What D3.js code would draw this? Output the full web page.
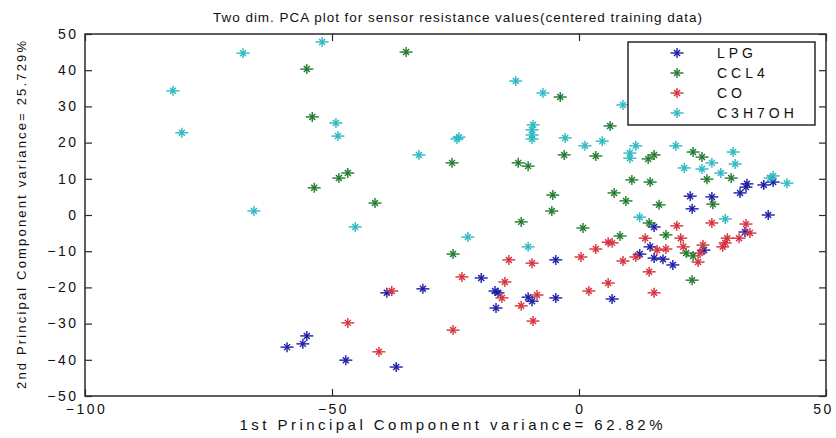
<!DOCTYPE html>
<html>
<head>
<meta charset="utf-8">
<script src="https://cdn.jsdelivr.net/npm/d3@7"></script>
<style>
  html, body { margin: 0; padding: 0; background: #fff; }
  svg { display: block; font-family: Arial, "Liberation Sans", Helvetica, sans-serif; }
</style>
</head>
<body>
<svg id="chart" width="836" height="438"></svg>
<script>
// Scores on the first two principal components, one array per gas
const seriesNames = ["LPG", "CCL4", "CO", "C3H7OH"];

const lpgPC1 = [-47.2, -37.0, -59.1, -55.9, -55.1, -38.9, -31.6, -19.8, -17.0, -16.4, -16.8, -10.3, -9.5, -4.7, -4.7, 6.7, 12.3, 14.4, 15.2, 17.0, 19.0, 15.2, 25.3, 33.6, 22.5, 26.9, 22.9, 38.3, 34.0, 33.8, 32.6, 37.4, 39.3];
const lpgPC2 = [-40.1, -42.0, -36.5, -35.6, -33.4, -21.5, -20.4, -17.4, -21.0, -21.5, -25.7, -22.7, -23.8, -22.9, -12.4, -23.2, -10.8, -8.8, -11.9, -12.2, -13.8, -3.3, -9.7, -4.7, 5.2, 5.0, 1.7, 0.0, 8.6, 7.7, 6.1, 8.3, 9.1];

const ccl4PC1 = [-35.0, -55.1, -54.0, -48.6, -46.8, -53.6, -41.3, -3.8, -25.7, -12.3, -10.3, -3.0, -5.3, -5.5, -11.7, -25.5, 0.8, 6.3, 3.4, 15.2, 14.0, 23.1, 24.9, 10.7, 14.4, 25.9, 30.8, 7.1, 9.5, 16.2, 27.1, 14.2, 8.3, 17.6, 21.7, 23.1, 22.9];
const ccl4PC2 = [45.0, 40.3, 27.1, 10.2, 11.6, 7.5, 3.3, 32.6, 14.4, 14.4, 13.5, 16.6, 5.5, 1.1, -1.9, -10.8, -3.6, 24.6, 16.3, 16.6, 15.5, 17.4, 16.0, 9.7, 9.1, 9.9, 10.2, 6.1, 3.9, 2.8, 3.0, -2.2, -5.8, -5.5, -10.5, -11.3, -18.0];

const coPC1 = [-46.8, -40.5, -37.9, -25.5, -23.7, -15.0, -15.6, -14.2, -9.5, -8.5, -11.7, -9.3, 0.4, 3.4, 6.7, 5.9, 8.9, 11.5, 13.4, 15.8, 17.6, 19.8, 20.6, 21.1, 14.2, 5.9, 2.0, 15.2, 26.9, 33.8, 34.6, 30.0, 29.6, 29.1, 32.4, 25.1, 24.5, 24.1];
const coPC2 = [-29.8, -37.8, -21.0, -31.8, -17.1, -18.5, -22.9, -12.4, -13.3, -22.1, -25.1, -29.3, -11.6, -9.4, -7.7, -7.5, -12.7, -11.6, -6.4, -9.7, -9.4, -3.0, -6.4, -8.8, -15.7, -18.8, -21.0, -21.5, -2.2, -2.5, -5.0, -6.4, -7.7, -8.8, -6.4, -8.3, -10.5, -13.0];

const c3h7ohPC1 = [-52.0, -68.0, -82.2, -49.2, -80.4, -48.8, -65.8, -45.3, -12.8, -7.3, -24.7, -24.3, -9.3, -9.5, -9.5, -9.5, -2.8, 1.2, -32.4, -22.5, -10.3, 8.9, 4.7, 11.5, 10.3, 10.3, 19.6, 31.2, 21.3, 24.9, 26.9, 31.6, 28.7, 39.3, 38.7, 42.1, 12.3, 29.6];
const c3h7ohPC2 = [47.8, 44.7, 34.3, 25.4, 22.7, 21.8, 1.1, -3.3, 37.0, 33.7, 21.0, 21.5, 24.9, 23.5, 22.1, 21.0, 21.3, 19.1, 16.6, -6.1, -8.8, 30.4, 20.4, 19.1, 17.1, 15.7, 19.1, 17.4, 13.0, 12.7, 14.4, 14.1, 11.6, 10.8, 10.2, 8.8, -0.6, -1.1];

const xTicks = [-100, -50, 0, 50];
const yTicks = [-50, -40, -30, -20, -10, 0, 10, 20, 30, 40, 50];

const titleText = "Two dim. PCA plot for sensor resistance values(centered training data)";
const xLabelText = "1st Principal Component variance= 62.82%";
const yLabelText = "2nd Principal Component variance= 25.729%";

const colors = ["#1c1ca6", "#1f7a2f", "#d5303c", "#2cb8c2"];

const series = [
  { name: seriesNames[0], xs: lpgPC1, ys: lpgPC2, color: colors[0] },
  { name: seriesNames[1], xs: ccl4PC1, ys: ccl4PC2, color: colors[1] },
  { name: seriesNames[2], xs: coPC1, ys: coPC2, color: colors[2] },
  { name: seriesNames[3], xs: c3h7ohPC1, ys: c3h7ohPC2, color: colors[3] }
];

const svg = d3.select("#chart");
const plot = { left: 85, right: 826, top: 34, bottom: 396 };

const x = d3.scaleLinear().domain([-100, 50]).range([plot.left, plot.right]);
const y = d3.scaleLinear().domain([-50, 50]).range([plot.bottom, plot.top]);

const axisColor = "#2a2a2a";
const tickFont = 14;

// Asterisk marker: plus sign with a smaller diagonal cross
function asterisk(sel, color) {
  const h = 6.5, v = 5, d = 3;
  sel.append("line").attr("x1", -h).attr("x2", h).attr("y1", 0).attr("y2", 0);
  sel.append("line").attr("x1", 0).attr("x2", 0).attr("y1", -v).attr("y2", v);
  sel.append("line").attr("x1", -d).attr("x2", d).attr("y1", -d).attr("y2", d);
  sel.append("line").attr("x1", -d).attr("x2", d).attr("y1", d).attr("y2", -d);
  sel.attr("stroke", color).attr("stroke-width", 1.4).attr("stroke-linecap", "butt");
}

// Points
const pointsLayer = svg.append("g");
series.forEach(s => {
  const pts = s.xs.map((v, i) => [v, s.ys[i]]);
  pointsLayer.append("g")
    .selectAll("g")
    .data(pts)
    .join("g")
    .attr("transform", d => `translate(${x(d[0])},${y(d[1])})`)
    .each(function () { asterisk(d3.select(this), s.color); });
});

// Axes: ticks point inward on all four sides
const bottomAxis = svg.append("g")
  .attr("transform", `translate(0,${plot.bottom})`)
  .call(d3.axisBottom(x).tickValues(xTicks).tickSize(-7).tickSizeOuter(0).tickPadding(8));
const leftAxis = svg.append("g")
  .attr("transform", `translate(${plot.left},0)`)
  .call(d3.axisLeft(y).tickValues(yTicks).tickSize(-7).tickSizeOuter(0).tickPadding(9));
const topAxis = svg.append("g")
  .attr("transform", `translate(0,${plot.top})`)
  .call(d3.axisTop(x).tickValues(xTicks).tickSize(-7).tickSizeOuter(0).tickFormat(""));
const rightAxis = svg.append("g")
  .attr("transform", `translate(${plot.right},0)`)
  .call(d3.axisRight(y).tickValues(yTicks).tickSize(-7).tickSizeOuter(0).tickFormat(""));

[bottomAxis, leftAxis, topAxis, rightAxis].forEach(g => {
  g.select(".domain").remove();
  g.selectAll(".tick line").attr("stroke", axisColor).attr("stroke-width", 1.2);
  g.selectAll(".tick text")
    .attr("fill", "#111")
    .attr("font-size", tickFont)
    .attr("font-family", "Arial, 'Liberation Sans', sans-serif")
    .style("letter-spacing", "2.5px");
});
leftAxis.selectAll(".tick text").attr("dx", "2.5px").attr("dy", "0.3em");
bottomAxis.selectAll(".tick text").attr("dx", d => (d === 50 ? "-3px" : "1px"));

// Axes box
svg.append("rect")
  .attr("x", plot.left).attr("y", plot.top)
  .attr("width", plot.right - plot.left).attr("height", plot.bottom - plot.top)
  .attr("fill", "none").attr("stroke", axisColor).attr("stroke-width", 1.5);

// Title
svg.append("text")
  .attr("x", (plot.left + plot.right) / 2 + 2).attr("y", 22)
  .attr("text-anchor", "middle")
  .attr("font-size", 13.5).attr("fill", "#111")
  .attr("textLength", 489).attr("lengthAdjust", "spacing")
  .text(titleText);

// Axis labels
svg.append("text")
  .attr("x", 451).attr("y", 430)
  .attr("text-anchor", "middle")
  .attr("font-size", 15).attr("fill", "#111")
  .attr("textLength", 423).attr("lengthAdjust", "spacing")
  .text(xLabelText);

svg.append("text")
  .attr("transform", `translate(26,${215}) rotate(-90)`)
  .attr("text-anchor", "middle")
  .attr("font-size", 13).attr("fill", "#111")
  .attr("textLength", 348).attr("lengthAdjust", "spacing")
  .text(yLabelText);

// Legend
const legend = svg.append("g");
legend.append("rect")
  .attr("x", 628).attr("y", 42).attr("width", 187).attr("height", 83)
  .attr("fill", "#fff").attr("stroke", "#1a1a1a").attr("stroke-width", 1.4);
series.forEach((s, i) => {
  const ry = 53 + i * 20;
  const m = legend.append("g").attr("transform", `translate(677,${ry})`);
  asterisk(m, s.color);
  legend.append("text")
    .attr("x", 717).attr("y", ry + 5)
    .attr("font-size", 14).attr("fill", "#111")
    .style("letter-spacing", "4px")
    .text(s.name);
});
</script>
</body>
</html>
